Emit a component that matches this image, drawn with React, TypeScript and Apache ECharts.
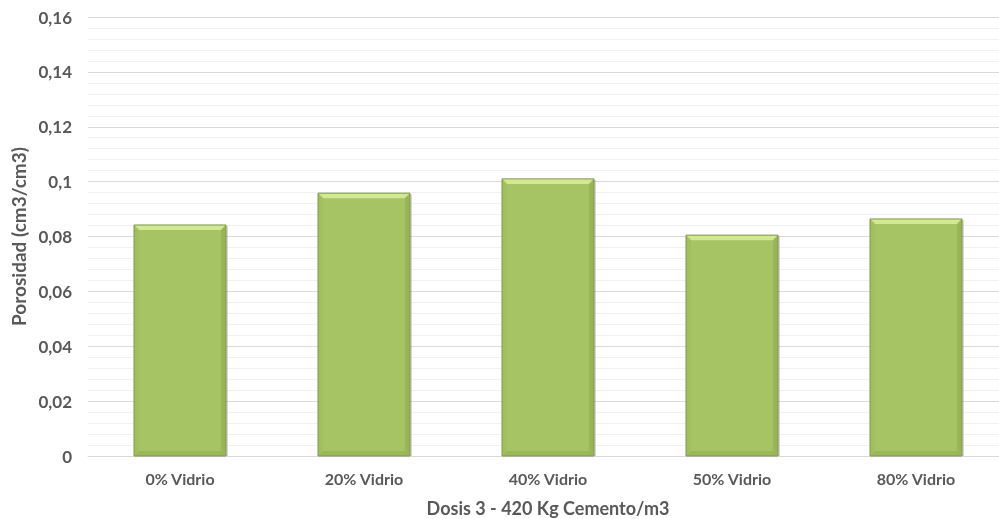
import React, { useEffect, useRef } from "react";
import * as echarts from "echarts";

const categories = ["0% Vidrio", "20% Vidrio", "40% Vidrio", "50% Vidrio", "80% Vidrio"];
const porosity = [0.0842, 0.0958, 0.101, 0.0805, 0.0864];
const yTicks = { min: 0, max: 0.16, interval: 0.02 };

export default function App() {
  const ref = useRef<HTMLDivElement>(null);
  useEffect(() => {
    if (!ref.current) return;
    const chart = echarts.init(ref.current, null, { renderer: "svg" });
    const font = "Lato, 'Open Sans', sans-serif";
    chart.setOption({
      animation: false,
      grid: { left: 88, right: -9, top: 17, bottom: 63, outerBoundsMode: "none", containLabel: false },
      xAxis: {
        type: "category",
        data: categories,
        name: "Dosis 3 - 420 Kg Cemento/m3",
        nameLocation: "middle",
        nameGap: 43,
        nameTextStyle: { color: "#595959", fontSize: 18, fontWeight: "bold", fontFamily: font },
        axisLine: { lineStyle: { color: "#d9d9d9", width: 1 } },
        axisTick: { show: false },
        axisLabel: { color: "#595959", fontSize: 16, fontWeight: "bold", fontFamily: font, margin: 14 },
      },
      yAxis: {
        type: "value",
        min: yTicks.min,
        max: yTicks.max,
        interval: yTicks.interval,
        name: "Porosidad (cm3/cm3)",
        nameLocation: "middle",
        nameGap: 60,
        nameTextStyle: { color: "#595959", fontSize: 19, fontWeight: "bold", fontFamily: font },
        axisLine: { show: false },
        axisTick: { show: false },
        axisLabel: {
          color: "#595959",
          fontSize: 17,
          fontWeight: "bold",
          fontFamily: font,
          margin: 16,
          formatter: (v: number) => (v === 0 ? "0" : String(+v.toFixed(3)).replace(".", ",")),
        },
        splitLine: { lineStyle: { color: "#d9d9d9", width: 1 } },
        minorTick: { show: false, splitNumber: 5 },
        minorSplitLine: { show: true, lineStyle: { color: "#f0f0f0", width: 1 } },
      },
      series: [
        {
          type: "custom",
          data: porosity.map((v, i) => [i, v]),
          renderItem: (params: any, api: any) => {
            const idx = api.value(0);
            const val = api.value(1);
            const top = api.coord([idx, val]);
            const base = api.coord([idx, 0]);
            const band = api.size([1, 0])[0];
            const w = band * 0.5;
            const x0 = top[0] - w / 2;
            const x1 = top[0] + w / 2;
            const y0 = top[1];
            const y1 = base[1];
            const b = 5;
            return {
              type: "group",
              children: [
                {
                  type: "rect",
                  shape: { x: x0 + 1, y: y0 + 1, width: w + 1, height: y1 - y0 - 1 },
                  style: { fill: "rgba(0,0,0,0.15)" },
                },
                {
                  type: "rect",
                  shape: { x: x0, y: y0, width: w, height: y1 - y0 },
                  style: { fill: "#a6c464" },
                },
                {
                  type: "polygon",
                  shape: { points: [[x0, y0], [x1, y0], [x1 - b, y0 + b], [x0 + b, y0 + b]] },
                  style: { fill: "#d2e893" },
                },
                {
                  type: "polygon",
                  shape: { points: [[x0, y0], [x0 + b, y0 + b], [x0 + b, y1 - b], [x0, y1]] },
                  style: { fill: "#a2bf60" },
                },
                {
                  type: "polygon",
                  shape: { points: [[x1, y0], [x1 - b, y0 + b], [x1 - b, y1 - b], [x1, y1]] },
                  style: { fill: "#98b557" },
                },
                {
                  type: "polygon",
                  shape: { points: [[x0, y1], [x0 + b, y1 - b], [x1 - b, y1 - b], [x1, y1]] },
                  style: { fill: "#9ab75a" },
                },
                {
                  type: "rect",
                  shape: { x: x0, y: y0, width: w, height: y1 - y0 },
                  style: { fill: "none", stroke: "#7d9648", lineWidth: 1 },
                },
              ],
            };
          },
        },
      ],
    });
    return () => chart.dispose();
  }, []);
  return (
    <div
      ref={ref}
      style={{ position: "fixed", left: 0, top: 0, width: 999, height: 519, overflow: "hidden" }}
    />
  );
}
